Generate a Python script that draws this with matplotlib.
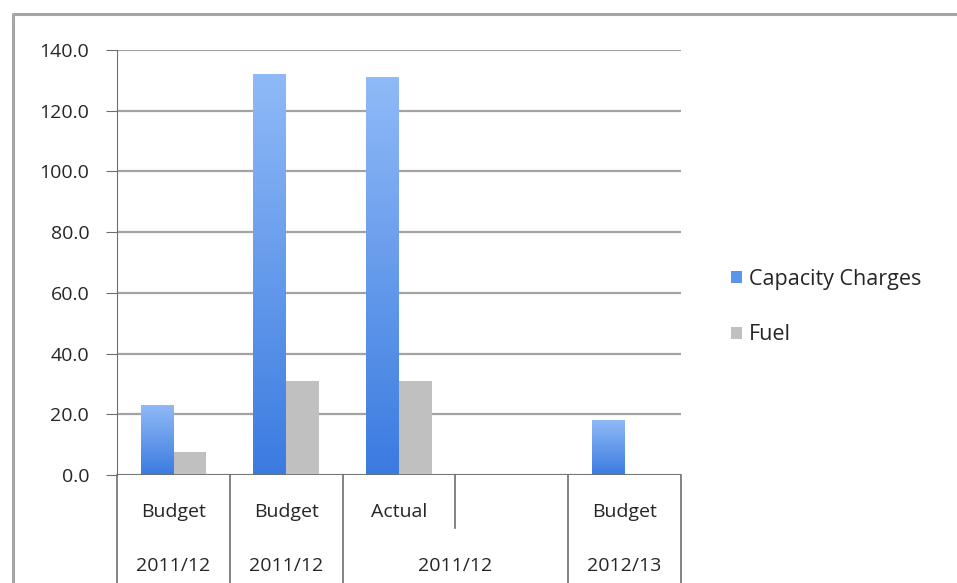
import numpy as np
import matplotlib
matplotlib.use("Agg")
import matplotlib.pyplot as plt
from matplotlib.colors import LinearSegmentedColormap
from matplotlib.lines import Line2D

plt.rcParams['font.family'] = ['Open Sans', 'DejaVu Sans']

# data
kinds = ['Budget', 'Budget', 'Actual', '', 'Budget']
years = ['2011/12', '2011/12', '2011/12', '2011/12', '2012/13']
capacity = [23.0, 132.0, 131.0, 0.0, 18.0]
fuel = [7.5, 31.0, 31.0, 0.0, 0.0]

fig = plt.figure(figsize=(9.57, 5.83), dpi=100)
fig.patch.set_facecolor('white')
# chart frame (left and top edges only, rest is cropped)
fx, fy = 12.5 / 957, 1 - 14 / 583
fig.add_artist(Line2D([fx, fx, 1.0], [0.0, fy, fy], transform=fig.transFigure,
                      color='#a6a6a6', lw=2.2))

ax = fig.add_axes([117 / 957, 1 - 475 / 583, 564 / 957, 425 / 583])
x = np.arange(len(kinds))
w = 0.29

blue_cmap = LinearSegmentedColormap.from_list('b', ['#3b7be0', '#8fbaf7'])
bars = ax.bar(x - w / 2, capacity, w, color='#5b95ea', label='Capacity Charges', zorder=3)
ax.bar(x + w / 2, fuel, w, color='#c0c0c0', label='Fuel', zorder=3)

# vertical gradient on the blue bars
grad = np.linspace(0, 1, 256).reshape(-1, 1)
for b in bars:
    if b.get_height() <= 0:
        continue
    bx, by = b.get_x(), b.get_y()
    im = ax.imshow(grad, cmap=blue_cmap, origin='lower', aspect='auto',
                   extent=[bx, bx + b.get_width(), by, by + b.get_height()],
                   zorder=4)
    im.set_clip_path(b)

ax.set_xlim(-0.5, len(kinds) - 0.5)
ax.set_ylim(0, 140)
ax.set_yticks(np.arange(0, 141, 20))
ax.set_yticklabels([f'{v:.1f}' for v in np.arange(0, 141, 20)])
ax.yaxis.grid(True, color='#a3a3a3', lw=1.6, zorder=0)
ax.set_axisbelow(True)
for s in ['top', 'right', 'bottom']:
    ax.spines[s].set_visible(False)
ax.spines['left'].set_color('#6e6e6e')
ax.axhline(0, color='#6e6e6e', lw=1.2, zorder=5)
ax.tick_params(axis='y', length=8, pad=12, color='#6e6e6e', labelsize=14,
               labelcolor='#262626')
ax.set_xticks([])

# category labels (two levels)
trans = ax.get_xaxis_transform()
for i, k in enumerate(kinds):
    ax.text(i, -0.088, k, transform=trans, ha='center', va='center',
            fontsize=14, color='#262626')
groups = [(0, 0, '2011/12'), (1, 1, '2011/12'), (2, 3, '2011/12'), (4, 4, '2012/13')]
for a, b, lab in groups:
    ax.text((a + b) / 2, -0.214, lab, transform=trans, ha='center', va='center',
            fontsize=14, color='#262626')
# dividers
for d in np.arange(-0.5, len(kinds)):
    inner = d == 2.5
    ax.plot([d, d], [0, -0.125 if inner else -0.26], transform=trans,
            color='#6e6e6e', lw=1.2, clip_on=False)

ax.legend(loc='center left', bbox_to_anchor=(1.055, 0.395), frameon=False,
          fontsize=15.5, handlelength=0.5, handleheight=0.5, handletextpad=0.3,
          labelspacing=1.6, labelcolor='#262626')

fig.savefig('out.png', dpi=100)
